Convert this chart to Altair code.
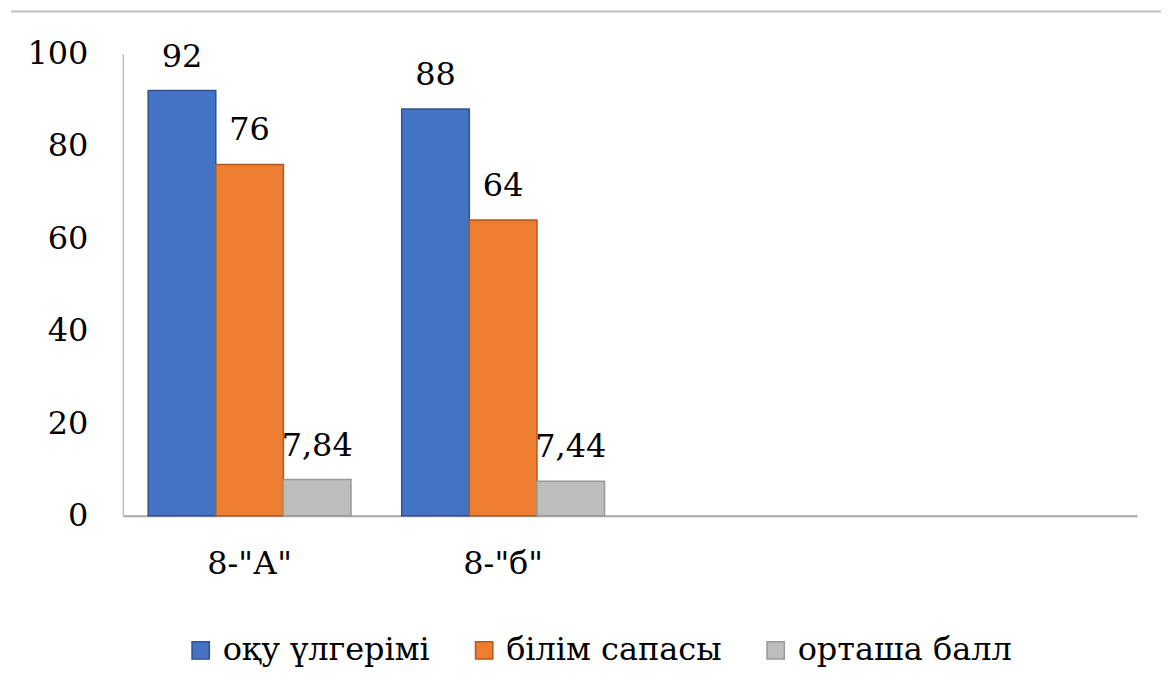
import altair as alt
import pandas as pd

categories = ['8-"А"', '8-"б"']
all_categories = ['8-"А"', '8-"б"', ' ', '  ']
series = ["оқу үлгерімі", "білім сапасы", "орташа балл"]
values = {
    "оқу үлгерімі": [92, 88],
    "білім сапасы": [76, 64],
    "орташа балл": [7.84, 7.44],
}
labels = {
    "оқу үлгерімі": ["92", "88"],
    "білім сапасы": ["76", "64"],
    "орташа балл": ["7,84", "7,44"],
}
colors = ["#4472C4", "#ED7D31", "#BDBDBD"]
strokes = ["#2F528F", "#AE5A21", "#9A9A9A"]

rows = []
for s in series:
    for i, c in enumerate(categories):
        rows.append({"cat": c, "series": s, "value": values[s][i], "label": labels[s][i]})
df = pd.DataFrame(rows)

FONT = "DejaVu Serif"
FS = 32
W, H = 1016, 463

x = alt.X("cat:N", sort=all_categories,
          scale=alt.Scale(domain=all_categories, paddingInner=0.2, paddingOuter=0.1),
          axis=alt.Axis(title=None, labelAngle=0, ticks=False, labelFont=FONT,
                        labelFontSize=FS, labelColor="#000000", labelPadding=33,
                        domainColor="#A6A6A6", domainWidth=2))
xo = alt.XOffset("series:N", sort=series, scale=alt.Scale(paddingInner=0, paddingOuter=0))
y = alt.Y("value:Q", scale=alt.Scale(domain=[0, 100], nice=False),
          axis=alt.Axis(title=None, values=[0, 20, 40, 60, 80, 100], grid=False, ticks=False,
                        labelFont=FONT, labelFontSize=FS, labelColor="#000000",
                        labelPadding=35, domainColor="#BFBFBF", domainWidth=1.5))

base = alt.Chart(df)

bars = base.mark_bar(strokeWidth=1.5).encode(
    x=x, xOffset=xo, y=y,
    color=alt.Color("series:N", sort=series,
                    scale=alt.Scale(domain=series, range=colors),
                    legend=alt.Legend(title=None, orient="none", direction="horizontal",
                                      legendX=62, legendY=582,
                                      symbolType="square", symbolSize=300,
                                      symbolStrokeWidth=1.5,
                                      labelFont=FONT, labelFontSize=FS, labelColor="#000000",
                                      labelOffset=6, columnPadding=38, labelLimit=400)),
    stroke=alt.Stroke("series:N", sort=series,
                      scale=alt.Scale(domain=series, range=strokes), legend=None),
)

text = base.mark_text(font=FONT, fontSize=FS, color="#000000", baseline="alphabetic",
                      dy=-24).encode(
    x=x, xOffset=xo, y=y, text="label:N"
)

top_rule = alt.Chart(pd.DataFrame({"a": [0]})).mark_rule(color="#BFBFBF", strokeWidth=2).encode(
    x=alt.value(-112), x2=alt.value(1040), y=alt.value(-42)
)

chart = alt.layer(bars, text, top_rule).properties(
    width=W, height=H, background="#FFFFFF",
    padding={"left": 2, "top": 2, "right": 0, "bottom": 5}
).configure_view(stroke=None)

chart.save("out.html", embed_options={"renderer": "svg", "actions": False})
